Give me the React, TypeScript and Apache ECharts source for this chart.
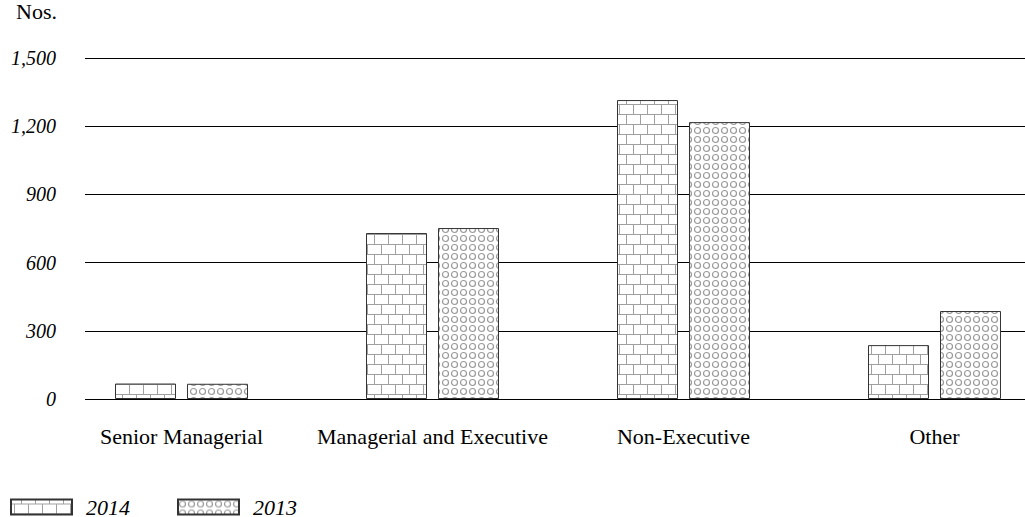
import React, { useEffect, useRef } from "react";
import * as echarts from "echarts";

const categories = ["Senior Managerial", "Managerial and Executive", "Non-Executive", "Other"];
const values2014 = [68, 730, 1315, 237];
const values2013 = [67, 752, 1218, 387];
const seriesNames = ["2014", "2013"];
const yMax = 1500;
const yInterval = 300;

function makeWeave(): HTMLCanvasElement {
  const c = document.createElement("canvas");
  c.width = 14;
  c.height = 20;
  const ctx = c.getContext("2d")!;
  ctx.fillStyle = "#ffffff";
  ctx.fillRect(0, 0, 14, 20);
  ctx.strokeStyle = "#a0a0a0";
  ctx.lineWidth = 1;
  ctx.beginPath();
  ctx.moveTo(0, 4.5); ctx.lineTo(14, 4.5);
  ctx.moveTo(0, 14.5); ctx.lineTo(14, 14.5);
  ctx.moveTo(3.5, 4.5); ctx.lineTo(3.5, 14.5);
  ctx.moveTo(10.5, 14.5); ctx.lineTo(10.5, 20);
  ctx.moveTo(10.5, 0); ctx.lineTo(10.5, 4.5);
  ctx.stroke();
  return c;
}

function makeCircles(): HTMLCanvasElement {
  const c = document.createElement("canvas");
  c.width = 9;
  c.height = 9;
  const ctx = c.getContext("2d")!;
  ctx.fillStyle = "#ffffff";
  ctx.fillRect(0, 0, 9, 9);
  ctx.strokeStyle = "#9a9a9a";
  ctx.lineWidth = 1.2;
  ctx.beginPath();
  ctx.arc(4.5, 4.5, 3, 0, Math.PI * 2);
  ctx.stroke();
  return c;
}

export default function App() {
  const ref = useRef<HTMLDivElement>(null);
  useEffect(() => {
    if (!ref.current) return;
    const chart = echarts.init(ref.current, null, { renderer: "svg" });
    const weave = makeWeave();
    const circles = makeCircles();
    const serif = "'Liberation Serif', 'DejaVu Serif', serif";
    chart.setOption({
      animation: false,
      backgroundColor: "#ffffff",
      grid: [
        { left: 56, top: 58, width: 1004, bottom: 118, outerBoundsMode: "none", containLabel: false },
        { left: 85, top: 58, right: 0, bottom: 118, outerBoundsMode: "none", containLabel: false },
      ],
      xAxis: [
        {
          type: "category",
          gridIndex: 0,
          data: categories,
          axisLine: { show: false },
          axisTick: { show: false },
          axisLabel: { interval: 0, margin: 26, color: "#000", fontFamily: serif, fontSize: 22 },
        },
        { type: "value", gridIndex: 1, show: false, min: 0, max: 1 },
      ],
      yAxis: [
        { type: "value", gridIndex: 0, min: 0, max: yMax, interval: yInterval, show: false },
        {
          type: "value",
          gridIndex: 1,
          min: 0,
          max: yMax,
          interval: yInterval,
          axisLine: { show: false },
          axisTick: { show: false },
          splitLine: { lineStyle: { color: "#000", width: 1 } },
          axisLabel: {
            margin: 29,
            color: "#000",
            fontFamily: serif,
            fontStyle: "italic",
            fontSize: 20,
            formatter: (v: number) => v.toLocaleString("en-US"),
          },
        },
      ],
      legend: {
        left: 10,
        top: 496,
        padding: 0,
        icon: "rect",
        itemWidth: 61,
        itemHeight: 15,
        itemGap: 47,
        textStyle: {
          color: "#000",
          fontFamily: serif,
          fontStyle: "italic",
          fontSize: 22,
          lineHeight: 20,
          padding: [0, 0, 0, 9],
        },
        data: seriesNames,
      },
      graphic: [
        {
          type: "text",
          right: 1025 - 57,
          top: 0,
          style: { text: "Nos.", fontFamily: serif, fontSize: 22, fill: "#000" },
        },
      ],
      series: [
        {
          name: seriesNames[0],
          type: "bar",
          xAxisIndex: 0,
          yAxisIndex: 0,
          data: values2014,
          barWidth: 61,
          barGap: "18%",
          z: 3,
          itemStyle: {
            color: { image: weave, repeat: "repeat" },
            borderColor: "#333",
            borderWidth: 1,
          },
        },
        {
          name: seriesNames[1],
          type: "bar",
          xAxisIndex: 0,
          yAxisIndex: 0,
          data: values2013,
          barWidth: 61,
          barGap: "18%",
          z: 3,
          itemStyle: {
            color: { image: circles, repeat: "repeat" },
            borderColor: "#333",
            borderWidth: 1,
          },
        },
      ],
    });
    return () => chart.dispose();
  }, []);
  return (
    <div
      ref={ref}
      style={{ position: "fixed", left: 0, top: 0, width: 1025, height: 517, background: "#fff" }}
    />
  );
}
